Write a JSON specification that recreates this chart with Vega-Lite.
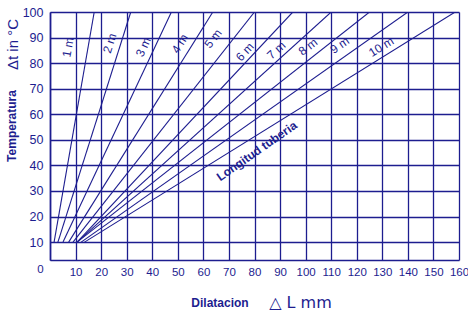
{
  "$schema": "https://vega.github.io/schema/vega-lite/v6.json",
  "width": 409,
  "height": 248,
  "autosize": {"type": "none"},
  "padding": {"left": 50, "top": 12, "right": 9, "bottom": 54},
  "background": "white",
  "config": {
    "view": {"stroke": null},
    "font": "Liberation Sans",
    "axis": {"labelFont": "Liberation Sans", "titleFont": "Liberation Sans"}
  },
  "datasets": {
    "lines": [
      {"L": "1 m", "x": 1.6, "T": 10}, {"L": "1 m", "x": 17.3, "T": 100},
      {"L": "2 m", "x": 3.1, "T": 10}, {"L": "2 m", "x": 31.6, "T": 100},
      {"L": "3 m", "x": 5.1, "T": 10}, {"L": "3 m", "x": 47.5, "T": 100},
      {"L": "4 m", "x": 7.3, "T": 10}, {"L": "4 m", "x": 63.7, "T": 100},
      {"L": "5 m", "x": 9.0, "T": 10}, {"L": "5 m", "x": 80.0, "T": 100},
      {"L": "6 m", "x": 10.6, "T": 10}, {"L": "6 m", "x": 95.0, "T": 100},
      {"L": "7 m", "x": 10.6, "T": 10}, {"L": "7 m", "x": 110.0, "T": 100},
      {"L": "8 m", "x": 10.6, "T": 10}, {"L": "8 m", "x": 125.0, "T": 100},
      {"L": "9 m", "x": 12.2, "T": 10}, {"L": "9 m", "x": 140.0, "T": 100},
      {"L": "10 m", "x": 13.5, "T": 10}, {"L": "10 m", "x": 158.5, "T": 100}
    ],
    "labels": [
      {"label": "1 m", "x": 7.1, "T": 86.2, "angle": -80},
      {"label": "2 m", "x": 23.4, "T": 87.8, "angle": -72},
      {"label": "3 m", "x": 36.5, "T": 86.3, "angle": -65},
      {"label": "4 m", "x": 50.8, "T": 87.6, "angle": -58},
      {"label": "5 m", "x": 63.8, "T": 89.6, "angle": -52},
      {"label": "6 m", "x": 76.2, "T": 84.4, "angle": -47},
      {"label": "7 m", "x": 88.5, "T": 85.0, "angle": -42},
      {"label": "8 m", "x": 100.9, "T": 86.4, "angle": -38},
      {"label": "9 m", "x": 113.3, "T": 87.0, "angle": -35},
      {"label": "10 m", "x": 129.6, "T": 86.4, "angle": -32}
    ],
    "caption": [
      {"label": "Longitud tuberia", "x": 80.9, "T": 45.6, "angle": -35}
    ]
  },
  "layer": [
    {
      "data": {"name": "lines"},
      "mark": {"type": "line", "color": "#1d1d8f", "strokeWidth": 1.1, "clip": true},
      "encoding": {
        "x": {
          "field": "x", "type": "quantitative",
          "scale": {"domain": [0, 160], "nice": false, "zero": false},
          "axis": {
            "orient": "bottom",
            "values": [0, 10, 20, 30, 40, 50, 60, 70, 80, 90, 100, 110, 120, 130, 140, 150, 160],
            "grid": true, "gridColor": "#1d1d8f", "gridWidth": 1.3, "gridOpacity": 1,
            "domain": true, "domainColor": "#1d1d8f", "domainWidth": 1.6,
            "ticks": false,
            "labelColor": "#1d1d8f", "labelFontSize": 11.5,
            "labelPadding": {"condition": {"test": "datum.value == 0", "value": 3}, "value": 6},
            "labelOffset": {"condition": {"test": "datum.value == 0", "value": -10}, "value": 0},
            "labelFlush": false, "labelOverlap": false,
            "title": "Dilatacion",
            "titleColor": "#1d1d8f", "titleFontSize": 12, "titleFontWeight": "bold",
            "titleX": 169.5, "titleY": 42, "titleAlign": "center", "titleBaseline": "middle"
          }
        },
        "y": {
          "field": "T", "type": "quantitative",
          "scale": {"domain": [3, 100], "nice": false, "zero": false},
          "axis": {
            "orient": "left",
            "values": [10, 20, 30, 40, 50, 60, 70, 80, 90, 100],
            "grid": true, "gridColor": "#1d1d8f", "gridWidth": 1.3, "gridOpacity": 1,
            "domain": true, "domainColor": "#1d1d8f", "domainWidth": 1.6,
            "ticks": false,
            "labelColor": "#1d1d8f", "labelFontSize": 12.5, "labelPadding": 7,
            "labelFlush": false, "labelOverlap": false,
            "title": "Temperatura",
            "titleColor": "#1d1d8f", "titleFontSize": 12, "titleFontWeight": "bold",
            "titleX": -39, "titleY": 113.5, "titleAlign": "center", "titleBaseline": "middle", "titleAngle": -90
          }
        },
        "detail": {"field": "L", "type": "nominal"}
      }
    },
    {
      "data": {"name": "labels"},
      "mark": {"type": "text", "color": "#1d1d8f", "fontSize": 12, "align": "center", "baseline": "middle"},
      "encoding": {
        "x": {
          "field": "x", "type": "quantitative",
          "axis": {
            "orient": "bottom", "labels": false, "ticks": false, "domain": false, "grid": false,
            "title": "△ L  mm",
            "titleColor": "#1d1d8f", "titleFontSize": 16, "titleFontWeight": "normal", "titleFont": "DejaVu Sans",
            "titleX": 250, "titleY": 42, "titleAlign": "center", "titleBaseline": "middle"
          }
        },
        "y": {
          "field": "T", "type": "quantitative",
          "axis": {
            "orient": "left", "labels": false, "ticks": false, "domain": false, "grid": false,
            "title": "Δt in °C",
            "titleColor": "#1d1d8f", "titleFontSize": 15, "titleFontWeight": "normal",
            "titleX": -38, "titleY": 32, "titleAlign": "center", "titleBaseline": "middle", "titleAngle": -90
          }
        },
        "text": {"field": "label", "type": "nominal"},
        "angle": {"field": "angle", "type": "quantitative", "scale": null}
      }
    },
    {
      "data": {"name": "caption"},
      "mark": {"type": "text", "color": "#1d1d8f", "fontSize": 12, "fontWeight": "bold", "align": "center", "baseline": "middle"},
      "encoding": {
        "x": {"field": "x", "type": "quantitative", "axis": null},
        "y": {"field": "T", "type": "quantitative", "axis": null},
        "text": {"field": "label", "type": "nominal"},
        "angle": {"field": "angle", "type": "quantitative", "scale": null}
      }
    }
  ],
  "resolve": {"axis": {"x": "independent", "y": "independent"}}
}
